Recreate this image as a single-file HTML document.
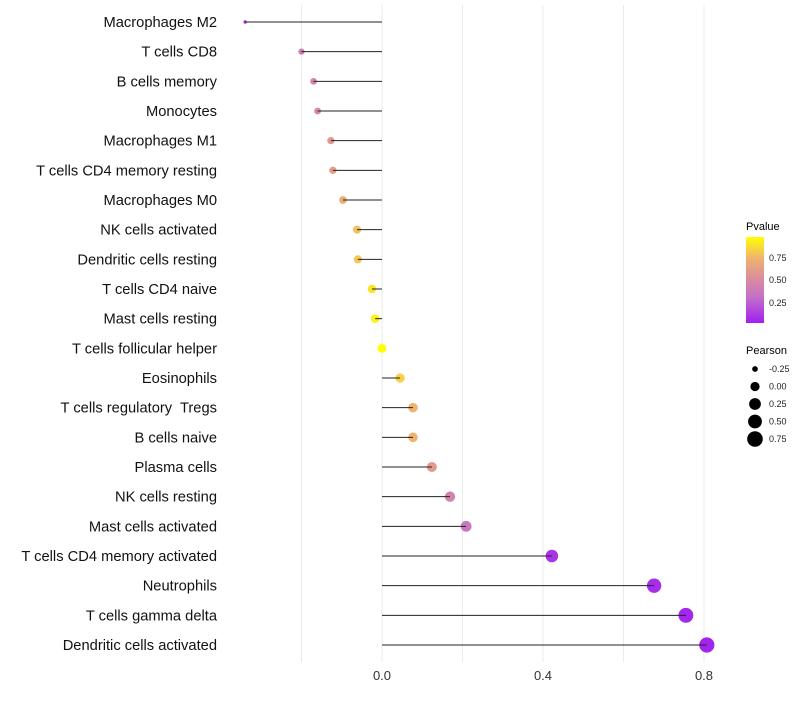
<!DOCTYPE html>
<html><head><meta charset="utf-8"><style>
body{margin:0;background:#fff;}
svg{font-family:"Liberation Sans",sans-serif;}
</style></head><body>
<svg id="chart" width="800" height="700">
<defs>
<linearGradient id="pg" x1="0" y1="1" x2="0" y2="0">
<stop offset="0" stop-color="#a020f0"/>
<stop offset="0.3" stop-color="#c470c8"/>
<stop offset="0.5" stop-color="#d98aa0"/>
<stop offset="0.75" stop-color="#f0b270"/>
<stop offset="1" stop-color="#ffff00"/>
</linearGradient>
</defs>
<g id="grid"></g>
<g id="marks"></g>
<g id="labels"></g>
<g id="xticks"></g>
<g>
<text x="746" y="230" font-size="11" fill="#000">Pvalue</text>
<rect x="746" y="237" width="18" height="86" fill="url(#pg)"/>
<g fill="#222" font-size="9"><text x="769" y="261">0.75</text><text x="769" y="283">0.50</text><text x="769" y="306">0.25</text></g>
</g>
<g id="sizeleg">
<text x="746" y="354" font-size="11" fill="#000">Pearson</text>
</g>
</svg>
<script>
const categories=["Macrophages M2","T cells CD8","B cells memory","Monocytes","Macrophages M1","T cells CD4 memory resting","Macrophages M0","NK cells activated","Dendritic cells resting","T cells CD4 naive","Mast cells resting","T cells follicular helper","Eosinophils","T cells regulatory  Tregs","B cells naive","Plasma cells","NK cells resting","Mast cells activated","T cells CD4 memory activated","Neutrophils","T cells gamma delta","Dendritic cells activated"];
const pearson=[-0.34,-0.2,-0.17,-0.16,-0.127,-0.122,-0.097,-0.062,-0.06,-0.025,-0.017,0.0,0.045,0.077,0.077,0.124,0.169,0.209,0.422,0.676,0.755,0.807];
const pvalues=[0.05,0.4,0.45,0.47,0.6,0.62,0.72,0.8,0.82,0.92,0.95,1.0,0.85,0.75,0.75,0.6,0.45,0.35,0.07,0.05,0.03,0.02];
const xTicks=[0.0,0.4,0.8];
const gridVals=[-0.2,0.0,0.2,0.4,0.6,0.8];
const legendVals=[-0.25,0.0,0.25,0.5,0.75];
const NS="http://www.w3.org/2000/svg";
const x=v=>382+v*402.5;
const y=i=>22+i*(623/21);
const vmin=-0.34,vmax=0.807;
const rad=v=>{const t=Math.max(0,(v-vmin)/(vmax-vmin));return Math.sqrt(3+t*55);};
const stops=[[0,[160,32,240]],[0.3,[196,112,200]],[0.5,[217,138,160]],[0.75,[240,178,112]],[1,[255,255,0]]];
function col(p){for(let k=1;k<stops.length;k++){if(p<=stops[k][0]){const a=stops[k-1],b=stops[k];const t=(p-a[0])/(b[0]-a[0]);return "rgb("+a[1].map((c,j)=>Math.round(c+(b[1][j]-c)*t)).join(",")+")";}}return "rgb(255,255,0)";}
function mk(tag,at,parent){const e=document.createElementNS(NS,tag);for(const k in at)e.setAttribute(k,at[k]);document.getElementById(parent).appendChild(e);return e;}
gridVals.forEach(v=>{const l=mk("line",{x1:x(v),x2:x(v),y1:5,y2:662,stroke:"#ebebeb","stroke-width":1},"grid");

});
categories.forEach((c,i)=>{
const pt=mk("circle",{cx:x(pearson[i]),cy:y(i),r:rad(pearson[i]),fill:col(pvalues[i])},"marks");


const ln=mk("line",{x1:x(pearson[i]),x2:x(0),y1:y(i),y2:y(i),stroke:"#222","stroke-width":1},"marks");


const t=mk("text",{x:217,y:y(i)+5,"text-anchor":"end","font-size":"14.7",fill:"#111"},"labels");
t.setAttribute("xml:space","preserve");
t.style.whiteSpace="pre";
t.textContent=c;


});
xTicks.forEach(v=>{const t=mk("text",{x:x(v),y:680,"text-anchor":"middle","font-size":"13",fill:"#333"},"xticks");
t.textContent=v.toFixed(1);

});
legendVals.forEach((v,k)=>{const cy=369+k*17.5;
const c=mk("circle",{cx:755,cy:cy,r:rad(v)*1.05,fill:"#000"},"sizeleg");


const t=mk("text",{x:769,y:cy+3,"font-size":"9",fill:"#222"},"sizeleg");
t.textContent=v.toFixed(2);

});
</script>
</body></html>
